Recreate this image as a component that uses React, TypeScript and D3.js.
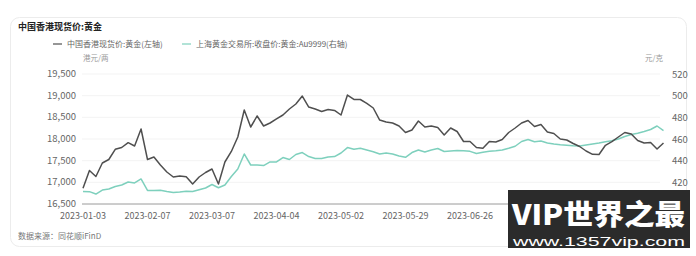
import React from "react";
import * as d3 from "d3";

// 中国香港现货价:黄金 (港元/两), one reading every two trading days
const hkPrice = [
  16862, 17273, 17135, 17446, 17527, 17762, 17804, 17915, 17838, 18231,
  17527, 17585, 17400, 17238, 17123, 17146, 17130, 16962, 17123, 17227,
  17308, 16962, 17469, 17712, 18046, 18669, 18277, 18531, 18300, 18369,
  18462, 18554, 18692, 18808, 18992, 18738, 18692, 18635, 18681, 18658,
  18554, 19015, 18912, 18912, 18824, 18715, 18438, 18392, 18369, 18300,
  18150, 18208, 18415, 18277, 18300, 18265, 18092, 18254, 18173, 17942,
  17942, 17804, 17785, 17942, 17931, 17988, 18150, 18254, 18369, 18427,
  18288, 18335, 18162, 18127, 18000, 17977, 17896, 17827, 17723, 17647,
  17642, 17855, 17938, 18046, 18150, 18115, 17965, 17908, 17919, 17769,
  17908,
];

// 上海黄金交易所:收盘价:黄金:Au9999 (元/克)
const sgePrice = [
  411.5, 411.4, 409.2, 412.9, 413.8, 416.2, 417.5, 420.3, 419.4, 423.1,
  412.5, 412.5, 412.6, 411.5, 410.6, 411.1, 411.8, 411.5, 413.2, 414.8,
  418.0, 415.0, 417.5, 425.4, 432.3, 446.2, 436.0, 436.0, 435.5, 438.8,
  438.8, 442.9, 441.1, 445.7, 447.5, 443.8, 442.0, 442.0, 443.4, 443.8,
  447.1, 452.1, 450.5, 451.4, 449.8, 448.3, 446.2, 447.1, 446.2, 444.3,
  443.1, 447.5, 449.8, 448.0, 449.8, 451.2, 448.5, 448.9, 449.4, 449.2,
  448.6, 446.6, 447.7, 448.6, 449.1, 449.8, 451.4, 453.3, 457.7, 459.5,
  457.5, 458.1, 456.3, 455.4, 454.7, 454.2, 453.7, 453.5, 454.5, 455.4,
  456.3, 457.4, 458.4, 460.0, 462.3, 464.1, 465.3, 466.9, 468.8, 472.0,
  467.8,
];

// Date labels, one every 20 trading days (10 readings)
const dateTicks = [
  "2023-01-03", "2023-02-07", "2023-03-07", "2023-04-04", "2023-05-02",
  "2023-05-29", "2023-06-26",
];
const readingsPerTick = 10;

const leftTicks = [16500, 17000, 17500, 18000, 18500, 19000, 19500];
const rightTicks = [420, 440, 460, 480, 500, 520];

const title = "中国香港现货价:黄金";
const seriesNames = ["中国香港现货价:黄金(左轴)", "上海黄金交易所:收盘价:黄金:Au9999(右轴)"];
const leftUnit = "港元/两";
const rightUnit = "元/克";
const source = "数据来源：同花顺iFinD";

const W = 696;
const H = 256;
const FONT = "'Noto Sans CJK SC', 'Noto Sans', sans-serif";
const DARK = "#4f4f4f";
const TEAL = "#7ed0bd";

export default function App() {
  const n = hkPrice.length;
  const x = d3.scaleLinear().domain([0, n - 1]).range([83, 663.5]);
  const yL = d3.scaleLinear().domain([16500, 19500]).range([204, 74]);
  const yR = d3.scaleLinear().domain([400, 520]).range([204, 74]);
  const fmt = d3.format(",");

  const hkLine = d3
    .line<number>()
    .x((_, i) => x(i))
    .y((d) => yL(d));
  const sgeLine = d3
    .line<number>()
    .x((_, i) => x(i))
    .y((d) => yR(d));

  return (
    <svg
      width={W}
      height={H}
      style={{ position: "absolute", left: 0, top: 0, background: "#fff" }}
      fontFamily={FONT}
    >
      <rect x={0} y={0} width={W} height={H} fill="#fff" />
      {/* card */}
      <rect x={10.5} y={17.5} width={676} height={229} rx={9} fill="#fff" stroke="#ececec" />

      <text x={18} y={30} fontSize={9} fontWeight={700} fill="#222">
        {title}
      </text>

      {/* legend */}
      <g fontSize={8} fill="#666">
        <line x1={53} x2={62} y1={44} y2={44} stroke={DARK} strokeWidth={1.2} />
        <text x={67} y={47}>{seriesNames[0]}</text>
        <line x1={182} x2={191} y1={44} y2={44} stroke={TEAL} strokeWidth={1.2} />
        <text x={196} y={47}>{seriesNames[1]}</text>
      </g>

      <text x={83} y={61} fontSize={7.5} fill="#999">{leftUnit}</text>
      <text x={645} y={61} fontSize={7.5} fill="#999">{rightUnit}</text>

      {/* grid */}
      {leftTicks.slice(1).map((t) => (
        <line key={t} x1={82} x2={660} y1={yL(t)} y2={yL(t)} stroke="#f3f3f3" />
      ))}
      <line x1={82} x2={662} y1={yL(16500)} y2={yL(16500)} stroke="#9a9a9a" strokeWidth={1} />

      {/* left axis */}
      {leftTicks.map((t) => (
        <text key={t} x={76} y={yL(t) + 3} fontSize={9.5} fill="#666" textAnchor="end">
          {fmt(t)}
        </text>
      ))}
      {/* right axis */}
      {rightTicks.map((t) => (
        <text key={t} x={672} y={yR(t) + 3.5} fontSize={9.5} fill="#666">
          {t}
        </text>
      ))}
      {/* date axis */}
      {dateTicks.map((d, k) => (
        <text
          key={d}
          x={x(k * readingsPerTick)}
          y={218.5}
          fontSize={9}
          fill="#666"
          textAnchor="middle"
        >
          {d}
        </text>
      ))}

      <path d={sgeLine(sgePrice) ?? ""} fill="none" stroke={TEAL} strokeWidth={1.5} strokeLinejoin="round" />
      <path d={hkLine(hkPrice) ?? ""} fill="none" stroke={DARK} strokeWidth={1.5} strokeLinejoin="round" />

      <text x={18} y={239} fontSize={8} fill="#777">{source}</text>

      {/* site badge */}
      <g>
        <rect x={508} y={190} width={182} height={58} fill="#2b2b2b" />
        <text
          x={512}
          y={225}
          fontSize={28}
          fontWeight={900}
          fill="#fff"
          textLength={173}
          lengthAdjust="spacingAndGlyphs"
          fontFamily="'Noto Sans CJK SC', sans-serif"
        >
          VIP世界之最
        </text>
        <text
          x={513}
          y={245.5}
          fontSize={13.5}
          fill="#fff"
          textLength={172}
          lengthAdjust="spacingAndGlyphs"
          fontFamily="'Liberation Sans', Arial, sans-serif"
        >
          www.1357vip.com
        </text>
      </g>
    </svg>
  );
}
